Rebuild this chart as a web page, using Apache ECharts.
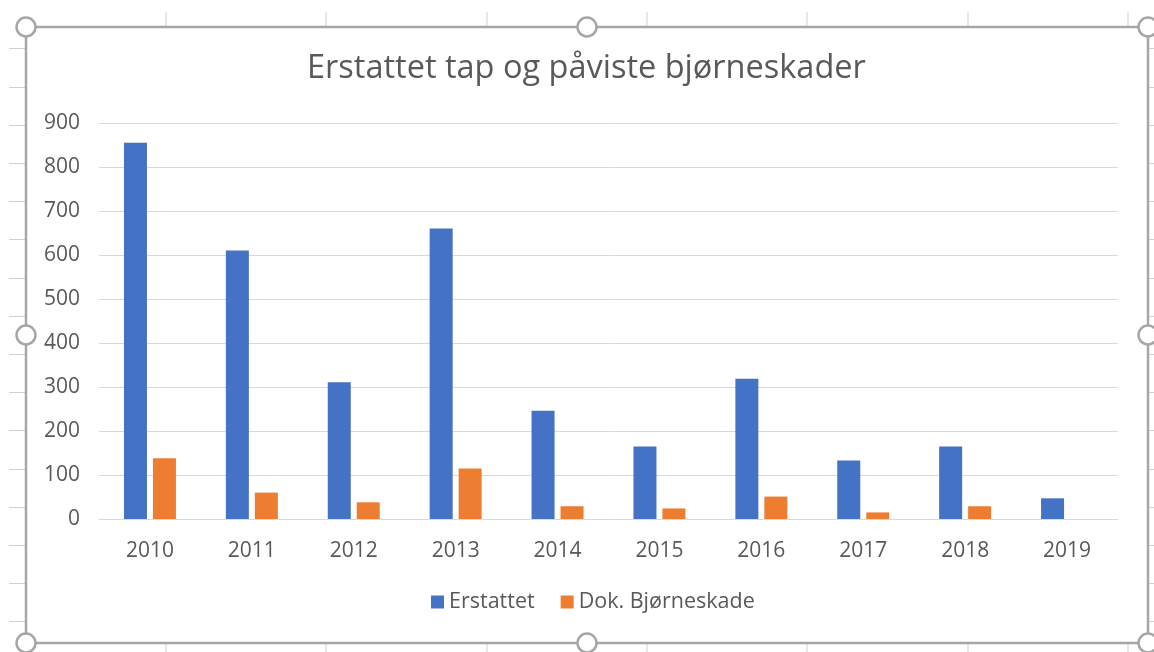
<!DOCTYPE html>
<html>
<head>
<meta charset="utf-8">
<script src="https://cdn.jsdelivr.net/npm/echarts@6/dist/echarts.min.js"></script>
<style>
  html, body { margin: 0; padding: 0; background: #fff; }
  #chart { width: 1154px; height: 652px; }
</style>
</head>
<body>
<div id="chart"></div>
<script>
// data
var years = ['2010', '2011', '2012', '2013', '2014', '2015', '2016', '2017', '2018', '2019'];
var erstattet = [855, 610, 311, 660, 246, 165, 319, 133, 165, 47];
var dokSkade = [138, 60, 38, 115, 29, 24, 51, 15, 29, 0];
var yTicks = [0, 100, 200, 300, 400, 500, 600, 700, 800, 900];

var chartDom = document.getElementById('chart');
var myChart = echarts.init(chartDom);
var option;

var textColor = '#595959';
var fontName = 'Open Sans';
var frameColor = '#a6a6a6';

// excel frame decoration: sheet ticks, border, handles
var deco = [];
[166, 326, 487, 647, 807, 968, 1128].forEach(function (x) {
  deco.push({ type: 'line', shape: { x1: x, y1: 12, x2: x, y2: 26 }, style: { stroke: '#d0d0d0', lineWidth: 1 } });
  deco.push({ type: 'line', shape: { x1: x, y1: 643, x2: x, y2: 652 }, style: { stroke: '#d0d0d0', lineWidth: 1 } });
});
for (var k = 0; k < 16; k++) {
  var y = Math.round(48.3 + 38.2 * k) + 0.5;
  deco.push({ type: 'line', shape: { x1: 9, y1: y, x2: 26, y2: y }, style: { stroke: '#d0d0d0', lineWidth: 1 } });
  deco.push({ type: 'line', shape: { x1: 1148, y1: y, x2: 1154, y2: y }, style: { stroke: '#d0d0d0', lineWidth: 1 } });
}
deco.push({
  type: 'rect',
  shape: { x: 26, y: 27, width: 1122, height: 616 },
  style: { fill: null, stroke: frameColor, lineWidth: 2.5 }
});
[[26, 27], [587, 27], [1148, 27], [26, 335], [1148, 335], [26, 643], [587, 643], [1148, 643]].forEach(function (p) {
  deco.push({
    type: 'circle',
    shape: { cx: p[0], cy: p[1], r: 9.5 },
    style: { fill: '#fff', stroke: frameColor, lineWidth: 2.5 },
    z: 10
  });
});

option = {
  animation: false,
  backgroundColor: '#fff',
  title: {
    text: 'Erstattet tap og påviste bjørneskader',
    left: 307,
    top: 52,
    padding: 0,
    textStyle: {
      color: textColor,
      fontFamily: fontName,
      fontSize: 32.5,
      fontWeight: 'normal'
    }
  },
  legend: {
    data: ['Erstattet', 'Dok. Bjørneskade'],
    bottom: 34,
    left: 426,
    icon: 'rect',
    itemWidth: 13,
    itemHeight: 13,
    itemGap: 26,
    textStyle: {
      color: textColor,
      fontFamily: fontName,
      fontSize: 21.5
    }
  },
  grid: {
    left: 99,
    right: 36,
    top: 123,
    bottom: 133
  },
  xAxis: {
    type: 'category',
    data: years,
    axisLine: { lineStyle: { color: '#d9d9d9', width: 1 } },
    axisTick: { show: false },
    axisLabel: {
      color: textColor,
      fontFamily: fontName,
      fontSize: 21,
      margin: 22
    }
  },
  yAxis: {
    type: 'value',
    min: 0,
    max: 900,
    interval: 100,
    axisLine: { show: false },
    axisTick: { show: false },
    splitLine: { lineStyle: { color: '#d9d9d9', width: 1 } },
    axisLabel: {
      color: textColor,
      fontFamily: fontName,
      fontSize: 21,
      margin: 19,
      formatter: function (v) { return yTicks.indexOf(v) >= 0 ? String(v) : ''; }
    }
  },
  series: [
    {
      name: 'Erstattet',
      type: 'bar',
      data: erstattet,
      barWidth: 23,
      barGap: '26%',
      itemStyle: { color: '#4472C4' }
    },
    {
      name: 'Dok. Bjørneskade',
      type: 'bar',
      data: dokSkade,
      barWidth: 23,
      itemStyle: { color: '#ED7D31' }
    }
  ],
  graphic: deco
};

option && myChart.setOption(option);
</script>
</body>
</html>
